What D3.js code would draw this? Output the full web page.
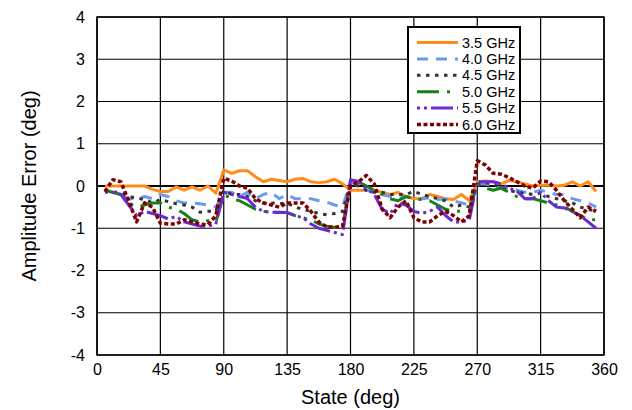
<html>
<head>
<meta charset="utf-8">
<script src="https://d3js.org/d3.v7.min.js"></script>
<style>
body { margin: 0; background: #fff; }
text { font-family: "Liberation Sans", Arial, sans-serif; }
</style>
</head>
<body>
<script>

// Phase states (deg)
var states = [5.625, 11.25, 16.875, 22.5, 28.125, 33.75, 39.375, 45, 50.625, 56.25, 61.875, 67.5, 73.125, 78.75, 84.375,
  90, 95.625, 101.25, 106.875, 112.5, 118.125, 123.75, 129.375, 135, 140.625, 146.25, 151.875, 157.5, 163.125, 168.75, 174.375,
  180, 185.625, 191.25, 196.875, 202.5, 208.125, 213.75, 219.375, 225, 230.625, 236.25, 241.875, 247.5, 253.125, 258.75, 264.375,
  270, 275.625, 281.25, 286.875, 292.5, 298.125, 303.75, 309.375, 315, 320.625, 326.25, 331.875, 337.5, 343.125, 348.75, 354.375];

// amplitude error per frequency (deg)
var f35 = [0, 0, 0, 0, 0, 0, -0.08, -0.13, -0.13, -0.02, -0.1, -0.02, -0.1, 0, -0.17,
  0.38, 0.3, 0.36, 0.36, 0.22, 0.1, 0.16, 0.13, 0.1, 0.16, 0.18, 0.1, 0.08, 0.1, 0.16, 0.05,
  -0.1, -0.1, -0.1, -0.1, -0.15, -0.2, -0.15, -0.25, -0.3, -0.3, -0.2, -0.25, -0.3, -0.32, -0.2, -0.35,
  0.1, 0.12, 0.1, 0.05, 0.13, 0.1, 0.05, 0, 0.02, 0.02, 0, 0.02, 0.1, 0, 0.1, -0.13];
var f40 = [-0.1, -0.15, -0.2, -0.3, -0.3, -0.25, -0.3, -0.2, -0.25, -0.35, -0.4, -0.4, -0.42, -0.45, -0.5,
  -0.15, -0.15, -0.25, -0.15, -0.3, -0.2, -0.15, -0.3, -0.2, -0.3, -0.3, -0.3, -0.35, -0.38, -0.45, -0.5,
  0.1, 0, -0.1, -0.15, -0.2, -0.25, -0.3, -0.25, -0.3, -0.3, -0.28, -0.32, -0.3, -0.35, -0.4, -0.45,
  0.05, 0.05, 0, -0.05, -0.05, -0.1, -0.15, -0.15, -0.1, -0.15, -0.2, -0.2, -0.3, -0.35, -0.4, -0.5];
var f45 = [-0.1, -0.15, -0.15, -0.25, -0.28, -0.32, -0.4, -0.32, -0.37, -0.42, -0.45, -0.5, -0.62, -0.6, -0.6,
  -0.1, -0.2, -0.2, -0.25, -0.35, -0.4, -0.4, -0.42, -0.4, -0.5, -0.55, -0.6, -0.65, -0.68, -0.65, -0.6,
  0.05, 0, -0.1, -0.15, -0.15, -0.2, -0.2, -0.2, -0.13, -0.2, -0.25, -0.3, -0.35, -0.5, -0.45, -0.5,
  0.05, 0.08, 0.05, -0.05, -0.1, -0.15, -0.17, -0.2, -0.17, -0.25, -0.3, -0.35, -0.4, -0.5, -0.55, -0.6];
var f50 = [-0.1, -0.15, -0.2, -0.4, -0.5, -0.45, -0.4, -0.4, -0.5, -0.55, -0.65, -0.8, -0.85, -0.82, -0.85,
  -0.2, -0.3, -0.35, -0.45, -0.55, -0.6, -0.62, -0.62, -0.63, -0.7, -0.75, -0.8, -0.9, -0.95, -0.98, -1.0,
  0.15, 0.1, 0, -0.1, -0.2, -0.3, -0.35, -0.25, -0.3, -0.32, -0.35, -0.45, -0.55, -0.6, -0.6, -0.6,
  0.05, -0.05, -0.1, -0.05, -0.15, -0.25, -0.3, -0.3, -0.35, -0.4, -0.45, -0.5, -0.6, -0.7, -0.8, -0.8];
var f55 = [-0.15, -0.15, -0.2, -0.45, -0.7, -0.6, -0.65, -0.7, -0.78, -0.72, -0.85, -0.9, -0.95, -0.95, -0.9,
  -0.15, -0.2, -0.25, -0.3, -0.5, -0.6, -0.62, -0.63, -0.63, -0.7, -0.75, -0.9, -1.0, -1.05, -1.1, -1.15,
  0.15, 0.1, -0.05, -0.2, -0.55, -0.65, -0.4, -0.45, -0.6, -0.65, -0.6, -0.5, -0.7, -0.85, -0.85, -0.8,
  0.1, 0.1, 0.1, 0.05, -0.05, -0.12, -0.3, -0.3, -0.15, -0.35, -0.5, -0.52, -0.6, -0.7, -0.85, -1.0];
var f60 = [-0.13, 0.15, 0.1, -0.35, -0.85, -0.4, -0.5, -0.88, -0.9, -0.9, -0.8, -0.85, -0.9, -0.92, -0.7,
  0.18, 0.12, 0, -0.05, -0.3, -0.4, -0.45, -0.5, -0.4, -0.4, -0.4, -0.6, -0.85, -0.97, -0.98, -0.95,
  0, 0.1, 0.25, 0.05, -0.55, -0.75, -0.5, -0.35, -0.75, -0.85, -0.85, -0.7, -0.6, -0.7, -0.85, -0.7,
  0.6, 0.5, 0.3, 0.28, 0.2, 0.1, 0, -0.05, 0.12, 0.1, -0.1, -0.35, -0.55, -0.75, -0.5, -0.6];

var names = ["3.5 GHz", "4.0 GHz", "4.5 GHz", "5.0 GHz", "5.5 GHz", "6.0 GHz"];
var xTicks = [0, 45, 90, 135, 180, 225, 270, 315, 360];
var yTicks = [-4, -3, -2, -1, 0, 1, 2, 3, 4];

var series = [
  {name: names[0], values: f35, color: "#ff8c1a", dash: null, w: 3},
  {name: names[1], values: f40, color: "#6b9af0", dash: "11,8", w: 3},
  {name: names[2], values: f45, color: "#333333", dash: "3.5,5.5", w: 3},
  {name: names[3], values: f50, color: "#13801a", dash: "22,8,3,8", w: 3},
  {name: names[4], values: f55, color: "#6a2ad4", dash: "3,4,3,4,22,4", w: 3},
  {name: names[5], values: f60, color: "#7f0000", dash: "4,2.5", w: 3.5}
];

var margin = {top: 17, right: 28, bottom: 55, left: 97},
    width = 632 - margin.left - margin.right,
    height = 410 - margin.top - margin.bottom;

var svg = d3.select("body").append("svg")
    .attr("width", 632)
    .attr("height", 410);
svg.append("rect").attr("width", 632).attr("height", 410).attr("fill", "#fff");

var g = svg.append("g")
    .attr("transform", "translate(" + margin.left + "," + margin.top + ")");

var x = d3.scaleLinear().domain([0, 360]).range([0, width]);
var y = d3.scaleLinear().domain([-4, 4]).range([height, 0]);

// grid
g.append("g").selectAll("line.gx")
  .data(xTicks).enter().append("line")
    .attr("x1", function(d) { return x(d); })
    .attr("x2", function(d) { return x(d); })
    .attr("y1", 0).attr("y2", height)
    .attr("stroke", "#000").attr("stroke-width", 1.2);
g.append("g").selectAll("line.gy")
  .data(yTicks).enter().append("line")
    .attr("x1", 0).attr("x2", width)
    .attr("y1", function(d) { return y(d); })
    .attr("y2", function(d) { return y(d); })
    .attr("stroke", "#000").attr("stroke-width", function(d) { return d === 0 ? 1.8 : 1.2; });

// axes (labels only)
var xAxis = g.append("g")
    .attr("transform", "translate(0," + height + ")")
    .call(d3.axisBottom(x).tickValues(xTicks).tickSize(0).tickPadding(9)
      .tickFormat(function(d) { return String(d); }));
var yAxis = g.append("g")
    .call(d3.axisLeft(y).tickValues(yTicks).tickSize(0).tickPadding(12)
      .tickFormat(function(d) { return String(d); }));
[xAxis, yAxis].forEach(function(a) {
  a.select(".domain").remove();
  a.selectAll("text").attr("font-size", "16px").attr("fill", "#000")
    .style("font-family", "'Liberation Sans', Arial, sans-serif");
});

// lines
var line = d3.line()
    .x(function(d, i) { return x(states[i]); })
    .y(function(d) { return y(d); });

series.forEach(function(s) {
  g.append("path")
    .datum(s.values)
    .attr("fill", "none")
    .attr("stroke", s.color)
    .attr("stroke-width", s.w)
    .attr("stroke-dasharray", s.dash)
    .attr("stroke-linejoin", "round")
    .attr("d", line);
});

// frame
g.append("rect")
    .attr("width", width).attr("height", height)
    .attr("fill", "none").attr("stroke", "#000").attr("stroke-width", 1.5);

// legend
var lg = svg.append("g").attr("transform", "translate(408,27)");
lg.append("rect").attr("width", 112).attr("height", 106)
    .attr("fill", "#fff").attr("stroke", "#000").attr("stroke-width", 2);
series.forEach(function(s, i) {
  var yy = 15.5 + i * 16.4;
  lg.append("line")
    .attr("x1", 9).attr("x2", 50).attr("y1", yy).attr("y2", yy)
    .attr("stroke", s.color).attr("stroke-width", s.w)
    .attr("stroke-dasharray", s.dash);
  lg.append("text")
    .attr("x", 54).attr("y", yy + 5)
    .attr("font-size", "14.5px")
    .text(s.name);
});

// axis titles
svg.append("text")
    .attr("x", margin.left + width / 2).attr("y", 404)
    .attr("text-anchor", "middle").attr("font-size", "20px")
    .text("State (deg)");
svg.append("text")
    .attr("transform", "translate(36," + (margin.top + height / 2) + ") rotate(-90)")
    .attr("text-anchor", "middle").attr("font-size", "20px")
    .text("Amplitude Error (deg)");

</script>
</body>
</html>
